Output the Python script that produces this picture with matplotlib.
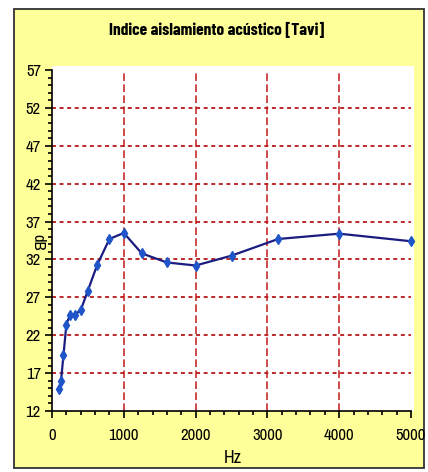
import matplotlib
matplotlib.use("Agg")
import matplotlib.pyplot as plt
from matplotlib.patches import Rectangle
from matplotlib.ticker import MultipleLocator

freq_hz = [100, 125, 160, 200, 250, 315, 400, 500, 630, 800, 1000,
           1250, 1600, 2000, 2500, 3150, 4000, 5000]
db_values = [14.9, 15.9, 19.4, 23.4, 24.7, 24.7, 25.3, 27.9, 31.3, 34.7, 35.5,
             32.8, 31.6, 31.2, 32.5, 34.7, 35.4, 34.4]
y_ticks = [12, 17, 22, 27, 32, 37, 42, 47, 52, 57]
x_ticks = [0, 1000, 2000, 3000, 4000, 5000]
title = "Indice aislamiento acústico [Tavi]"

W, H = 428, 472
fig = plt.figure(figsize=(W / 100, H / 100), dpi=100)
fig.patch.set_facecolor("white")

font = ["Liberation Sans Narrow", "Archivo Narrow", "DejaVu Sans"]
title_font = ["Barlow Condensed", "Liberation Sans Narrow", "DejaVu Sans"]

# yellow chart area with border
fig.patches.append(Rectangle((14 / W, 1 - 468 / H), (424 - 14) / W, (468 - 9) / H,
                             transform=fig.transFigure, facecolor="#ffff99",
                             edgecolor="#333333", linewidth=1.3, zorder=-3))
# white plot area (slightly larger than axes)
fig.patches.append(Rectangle((52 / W, 1 - 411 / H), (414 - 52) / W, (411 - 66) / H,
                             transform=fig.transFigure, facecolor="white",
                             edgecolor="none", zorder=-2))

ax = fig.add_axes([52 / W, 1 - 411 / H, (411 - 52) / W, (411 - 70) / H])
ax.set_facecolor("none")
ax.set_xlim(0, 5000)
ax.set_ylim(12, 57)

ax.set_yticks(y_ticks)
ax.set_xticks(x_ticks)
ax.yaxis.set_minor_locator(MultipleLocator(1))
ax.xaxis.set_minor_locator(MultipleLocator(200))

for s in ["top", "right"]:
    ax.spines[s].set_visible(False)
for s in ["left", "bottom"]:
    ax.spines[s].set_color("black")
    ax.spines[s].set_linewidth(1.2)

ax.tick_params(axis="both", which="major", direction="out", length=5, width=1.2,
               color="black", labelsize=12)
ax.tick_params(axis="both", which="minor", direction="out", length=3, width=1.2,
               color="black")
ax.tick_params(axis="y", pad=3)
ax.tick_params(axis="x", pad=7)
for lab in ax.get_xticklabels() + ax.get_yticklabels():
    lab.set_family(font)

# grid lines
for yv in y_ticks[1:-1]:
    ax.axhline(yv, color="#b81818", linestyle=(0, (2.2, 2.0)), linewidth=1.3, zorder=1)
for xv in x_ticks[1:-1]:
    ax.axvline(xv, color="#c01818", linestyle=(0, (5, 2.2)), linewidth=1.1, zorder=1)

ax.plot(freq_hz, db_values, color="#1c1c80", linewidth=1.6, zorder=3,
        marker="d", markersize=5.5, markerfacecolor="#1f55c8",
        markeredgecolor="#1f55c8", clip_on=False)

fig.text(217 / W, 1 - 30 / H, title, ha="center", va="center",
         fontsize=12.5, fontweight="bold", family=title_font)
fig.text(38 / W, 1 - 242 / H, "dB", ha="center", va="center", rotation=-90,
         fontsize=12, family=font)
fig.text(233 / W, 1 - 458 / H, "Hz", ha="center", va="center",
         fontsize=13, family=font)

fig.savefig("out.png", dpi=100, facecolor=fig.get_facecolor())
